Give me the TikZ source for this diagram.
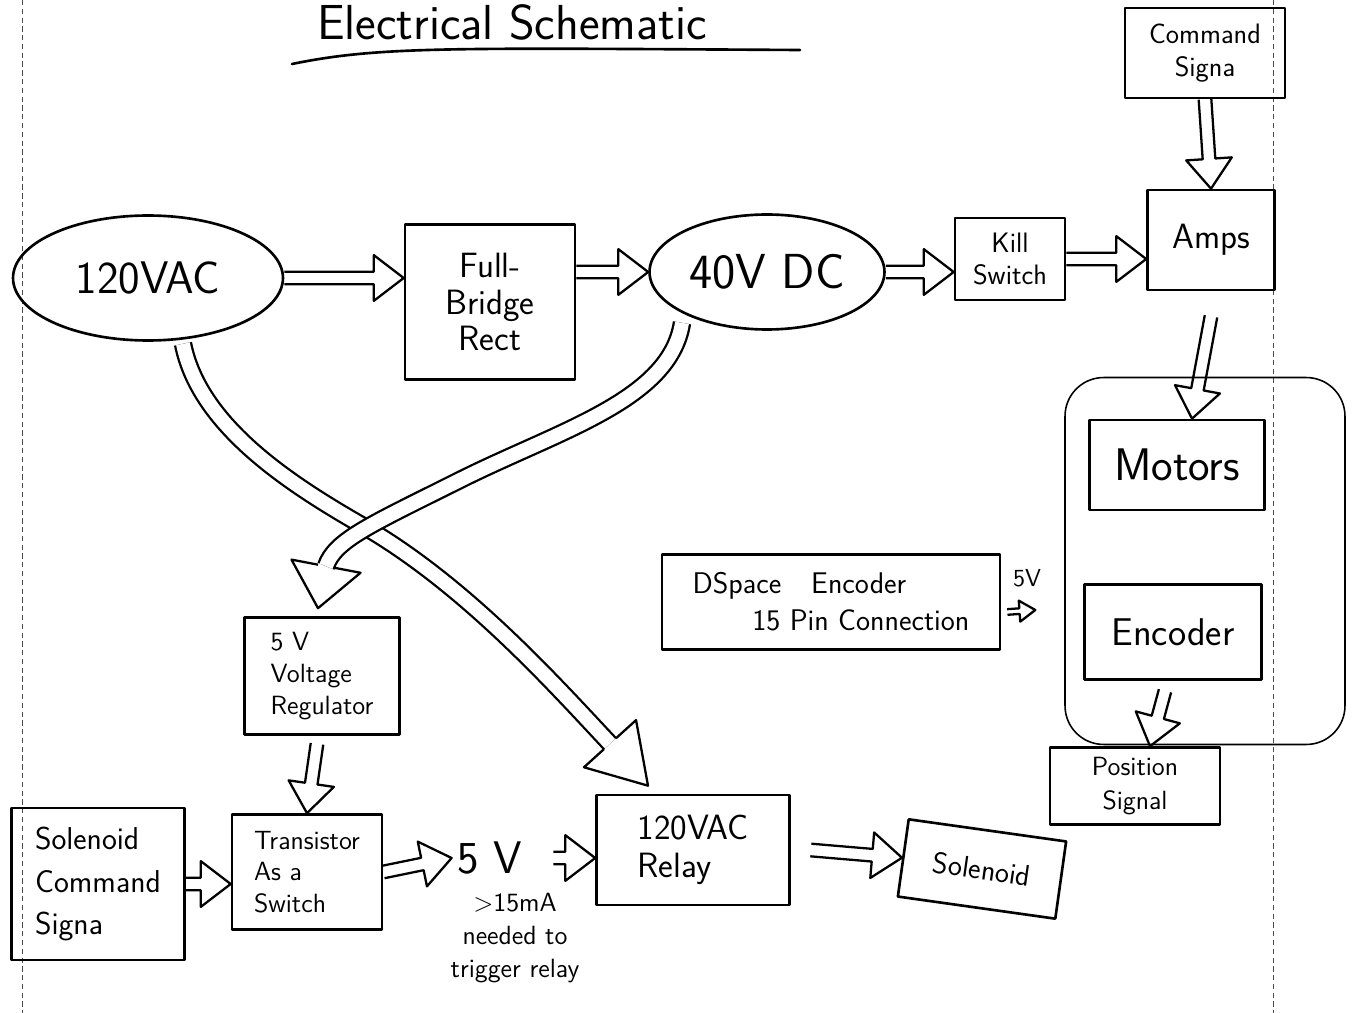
\documentclass[tikz,border=0pt]{standalone}
\usepackage{tikz}
\usetikzlibrary{arrows.meta, positioning, shapes.geometric, calc}

% handwriting-sized sans text
\newcommand{\hw}[2]{\sffamily\fontsize{#1}{#2}\selectfont}

\tikzset{
  hand/.style={line width=1.5pt, line join=round, line cap=round},
  box/.style={hand, draw, rectangle, align=center, inner sep=2pt},
  blob/.style={hand, draw, ellipse, inner sep=0pt},
  hollow/.style={line width=1.3pt, line join=round},
  tube/.style={line width=1.3pt, double, double distance=7.9pt},
  group/.style={draw, line width=0.9pt, rounded corners=22pt},
  margin/.style={line width=0.5pt, densely dashed, black!70},
}

% outline arrow: start, tip, shaft half width, head half width, head length
\newcommand{\hollowarrow}[5]{%
  \coordinate (ha-s) at (#1);
  \coordinate (ha-t) at (#2);
  \coordinate (ha-b) at ($(ha-t)!#5!(ha-s)$);
  \draw[hollow] ($(ha-s)!#3!90:(ha-t)$) -- ($(ha-b)!#3!90:(ha-t)$)
    -- ($(ha-b)!#4!90:(ha-t)$) -- (ha-t) -- ($(ha-b)!#4!-90:(ha-t)$)
    -- ($(ha-b)!#3!-90:(ha-t)$) -- ($(ha-s)!#3!-90:(ha-t)$);
}
\newcommand{\fatarrow}[2]{\hollowarrow{#1}{#2}{3.6pt}{13pt}{17pt}}
% head for the bent tubes: base, tip
\newcommand{\hollowhead}[2]{%
  \draw[hollow] ($(#1)!4.6pt!90:(#2)$) -- ($(#1)!20pt!90:(#2)$) -- (#2)
    -- ($(#1)!20pt!-90:(#2)$) -- ($(#1)!4.6pt!-90:(#2)$);
}

\begin{document}
\begin{tikzpicture}[x=0.02cm, y=-0.02cm]
    \useasboundingbox (0,0) rectangle (1367,1013);
    % page rules
    \draw[margin] (22,0) -- (22,1013);
    \draw[margin] (1273,0) -- (1273,1013);
    % Title
    \node[font={\hw{28}{30}}] (title) at (512,22) {Electrical Schematic};
    \draw[hand] (292,64) .. controls (380,46) and (450,48) .. (800,50);
    % Power chain
    \node[blob, minimum width=5.4cm, minimum height=2.5cm, font={\hw{26}{28}}] (vac) at (148,278) {120VAC};
    \node[box, minimum width=3.4cm, minimum height=3.1cm, font={\hw{20}{21}}] (rect) at (490,302) {Full-\\Bridge\\Rect};
    \node[blob, minimum width=4.7cm, minimum height=2.3cm, font={\hw{28}{30}}] (vdc) at (767,272) {40V DC};
    \node[box, minimum width=2.2cm, minimum height=1.64cm, font={\hw{16}{18}}] (kill) at (1010,259) {Kill\\Switch};
    \node[box, minimum width=2.54cm, minimum height=2.0cm, font={\hw{20}{22}}] (amps) at (1211,240) {Amps};
    \node[box, minimum width=3.2cm, minimum height=1.8cm, font={\hw{16}{19}}] (cmd) at (1205,53) {Command\\Signa};
    % Motor and encoder group
    \node[group, minimum width=5.6cm, minimum height=7.34cm] (grp) at (1205,561) {};
    \node[box, minimum width=3.5cm, minimum height=1.8cm, font={\hw{26}{28}}] (motors) at (1177,465) {Motors};
    \node[box, minimum width=3.54cm, minimum height=1.9cm, font={\hw{22}{24}}] (enc) at (1173,632) {Encoder};
    \node[box, minimum width=6.76cm, minimum height=1.9cm, align=left, font={\hw{17}{21}}] (dspace) at (831,602) {DSpace\quad Encoder\\\hspace{2em}15 Pin Connection};
    \node[box, minimum width=3.4cm, minimum height=1.54cm, font={\hw{15}{19}}] (pos) at (1135,786) {Position\\Signal};
    \node[font={\hw{14}{16}}] (five) at (1027,578) {5V};
    % Solenoid side
    \node[box, minimum width=3.1cm, minimum height=2.34cm, align=left, font={\hw{15}{18}}] (reg) at (322,676) {5 V\\Voltage\\Regulator};
    \node[box, minimum width=3.0cm, minimum height=2.3cm, align=left, font={\hw{15}{18}}] (trans) at (307,872) {Transistor\\As a\\Switch};
    \node[box, minimum width=3.46cm, minimum height=3.04cm, align=left, font={\hw{18}{24}}] (solcmd) at (98,884) {Solenoid\\Command\\Signa};
    \node[font={\hw{26}{28}}] (fivev) at (490,858) {5 V};
    \node[align=center, font={\hw{15}{19}}] (need) at (515,938) {\textgreater15mA\\needed to\\trigger relay};
    \node[box, minimum width=3.86cm, minimum height=2.2cm, align=left, font={\hw{20}{22}}] (relay) at (693,850) {120VAC\\Relay};
    \node[box, minimum width=3.18cm, minimum height=1.56cm, rotate=-8, font={\hw{17}{19}}] (sol) at (982,869) {Solenoid};
    % Straight arrows
    \fatarrow{vac.east}{rect.west |- vac.east}
    \fatarrow{rect.east |- vdc.west}{vdc.west}
    \fatarrow{vdc.east}{kill.west |- vdc.east}
    \fatarrow{kill.east}{amps.west |- kill.east}
    \fatarrow{cmd.south}{amps.north}
    \fatarrow{$(amps.south)+(0,25)$}{$(motors.north)+(15,0)$}
    \fatarrow{$(enc.south)+(-8,10)$}{$(pos.north)+(15,0)$}
    \fatarrow{$(reg.south)+(-5,8)$}{trans.north}
    \fatarrow{solcmd.east}{trans.west |- solcmd.east}
    \fatarrow{trans.east}{fivev.west}
    \fatarrow{$(fivev.east)+(25,0)$}{relay.west |- fivev.east}
    \fatarrow{$(relay.east)+(20,0)$}{sol.west}
    \hollowarrow{$(dspace.east)+(6,10)$}{$(dspace.east)+(34,8)$}{1.6pt}{6pt}{9pt}
    % 120 VAC down to the relay (underneath)
    \coordinate (vr-t) at ($(relay.north)+(-45,-8)$);
    \coordinate (vr-b) at ($(vr-t)+(-38,-42)$);
    \draw[tube] ($(vac.south)+(35,2)$) .. controls (200,430) and (300,490) .. (370,530)
        .. controls (470,590) and (555,685) .. (vr-b);
    \hollowhead{vr-b}{vr-t}
    % 40 V DC bending down to the regulator
    \coordinate (vg-t) at ($(reg.north)+(-4,-8)$);
    \coordinate (vg-b) at ($(vg-t)+(8,-42)$);
    \draw[tube] ($(vdc.south)+(-85,-8)$) .. controls (670,400) and (560,430) .. (460,480)
        .. controls (370,525) and (335,540) .. (vg-b);
    \hollowhead{vg-b}{vg-t}
\end{tikzpicture}
\end{document}
